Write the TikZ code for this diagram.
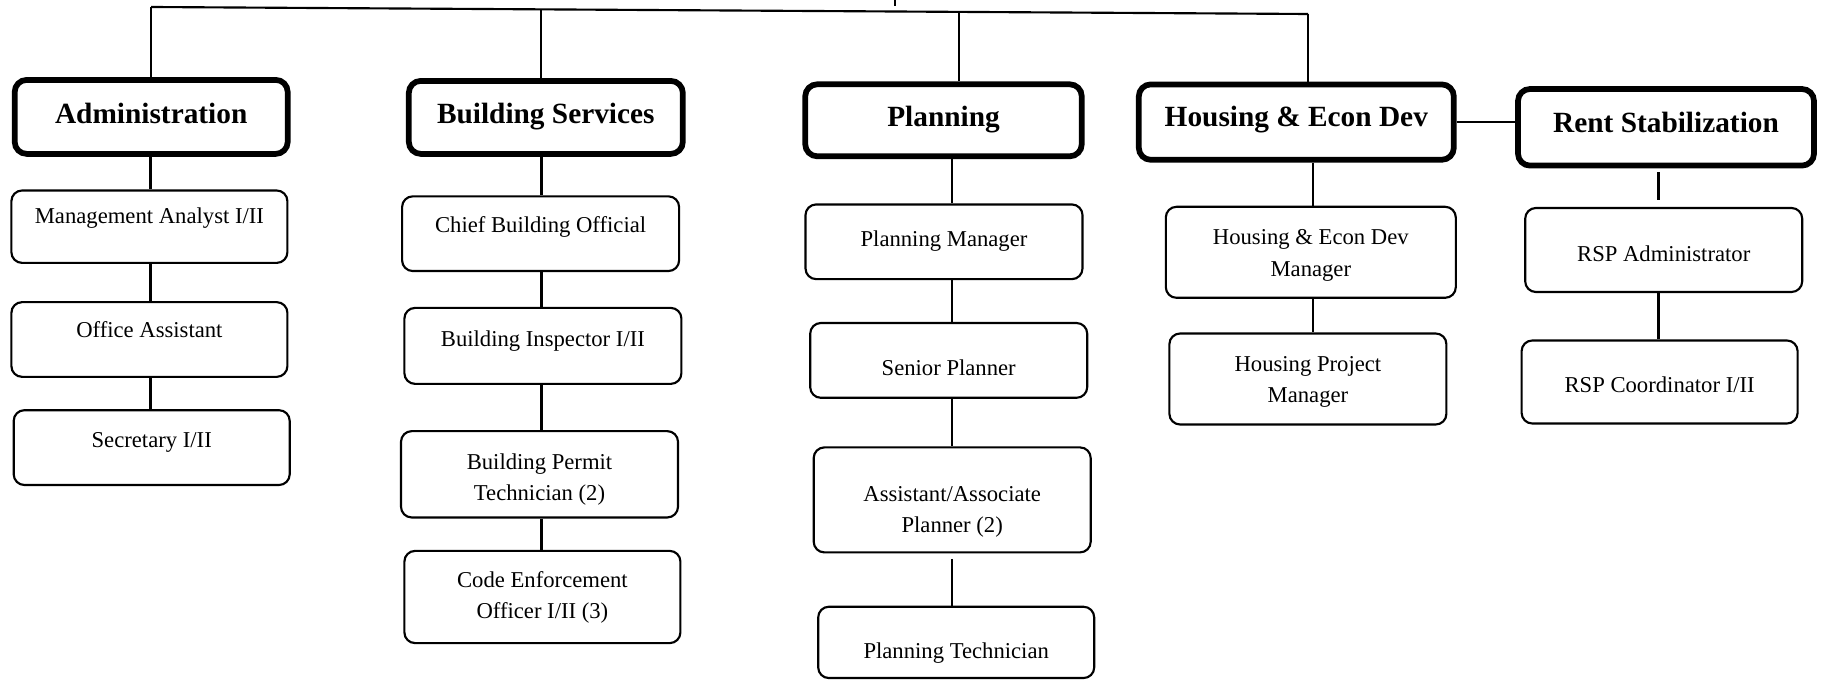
\documentclass[tikz,border=0pt]{standalone}
\usepackage{fontspec}
\setmainfont{Liberation Serif}
\def\u{0.75pt}
\tikzset{
  head/.style={draw, line width=4.3pt, rounded corners=9pt, inner sep=0pt},
  job/.style={draw, line width=1.6pt, rounded corners=8pt, inner sep=0pt},
  link/.style={line width=1.6pt},
  htxt/.style={font=\fontsize{22}{26}\selectfont\bfseries, inner sep=0pt, text height=15pt, text depth=4.8pt},
  jtxt/.style={font=\fontsize{17}{23.5}\selectfont, inner sep=0pt, text height=11.6pt, text depth=3.7pt},
  jtxtb/.style={font=\fontsize{17}{23.5}\selectfont, align=center, inner sep=0pt},
}
\begin{document}
\begin{tikzpicture}[x=0.75pt, y=-0.75pt]
\useasboundingbox (0,0) rectangle (1823,680);
% headers
\node[head, minimum width=273*\u, minimum height=74*\u] (adm) at (151.2,116.9) {};
\node[htxt] (admt) at (151.2,117.1) {Administration};
\node[head, minimum width=274*\u, minimum height=73*\u] (bs) at (545.8,117.4) {};
\node[htxt] (bst) at (545.8,117.1) {Building Services};
\node[head, minimum width=276.5*\u, minimum height=72*\u] (pl) at (943.5,120.3) {};
\node[htxt] (plt) at (943.5,119.5) {Planning};
\node[head, minimum width=315*\u, minimum height=75.4*\u] (hed) at (1296.3,122.1) {};
\node[htxt] (hedt) at (1296.3,119.5) {Housing \& Econ Dev};
\node[head, minimum width=296*\u, minimum height=76.6*\u] (rs) at (1666,127.3) {};
\node[htxt] (rst) at (1666,125.3) {Rent Stabilization};
% administration column
\node[job, minimum width=276*\u, minimum height=72.4*\u] (ma) at (149.4,226.7) {};
\node[jtxt] (mat) at (149.4,218.7) {Management Analyst I/II};
\node[job, minimum width=276*\u, minimum height=74.7*\u] (oa) at (149.4,339.5) {};
\node[jtxt] (oat) at (149.4,332.7) {Office Assistant};
\node[job, minimum width=276*\u, minimum height=74.8*\u] (sec) at (151.7,447.6) {};
\node[jtxt] (sect) at (151.7,442) {Secretary I/II};
% building services column
\node[job, minimum width=277*\u, minimum height=74.7*\u] (cbo) at (540.6,233.7) {};
\node[jtxt] (cbot) at (540.6,226.9) {Chief Building Official};
\node[job, minimum width=277*\u, minimum height=76*\u] (bi) at (542.9,345.9) {};
\node[jtxt] (bit) at (542.9,340.8) {Building Inspector I/II};
\node[job, minimum width=277*\u, minimum height=86.3*\u] (bpt) at (539.5,474.3) {};
\node[jtxtb] (bptt) at (539.5,479.6) {Building Permit\\Technician (2)};
\node[job, minimum width=276*\u, minimum height=92.2*\u] (ceo) at (542.4,597) {};
\node[jtxtb] (ceot) at (542.4,597.2) {Code Enforcement\\Officer I/II (3)};
% planning column
\node[job, minimum width=277*\u, minimum height=74.7*\u] (pm) at (944,241.8) {};
\node[jtxt] (pmt) at (944,240.8) {Planning Manager};
\node[job, minimum width=277*\u, minimum height=74.8*\u] (sp) at (948.7,360.4) {};
\node[jtxt] (spt) at (948.7,369.9) {Senior Planner};
\node[job, minimum width=277*\u, minimum height=105*\u] (ap) at (952.2,499.9) {};
\node[jtxtb] (apt) at (952.2,512.1) {Assistant/Associate\\Planner (2)};
\node[job, minimum width=276*\u, minimum height=71.3*\u] (pt) at (956.2,642.4) {};
\node[jtxt] (ptt) at (956.2,653.5) {Planning Technician};
% housing column
\node[job, minimum width=290*\u, minimum height=91*\u] (hedm) at (1310.8,252.3) {};
\node[jtxtb] (hedmt) at (1310.8,255.3) {Housing \& Econ Dev\\Manager};
\node[job, minimum width=277*\u, minimum height=91*\u] (hpm) at (1307.9,379) {};
\node[jtxtb] (hpmt) at (1307.9,382) {Housing Project\\Manager};
% rent stabilization column
\node[job, minimum width=277*\u, minimum height=84*\u] (rsa) at (1663.7,250) {};
\node[jtxt] (rsat) at (1663.7,255.9) {RSP Administrator};
\node[job, minimum width=276*\u, minimum height=83*\u] (rsc) at (1659.6,382) {};
\node[jtxt] (rsct) at (1659.6,387.3) {RSP Coordinator I/II};
% top bar
\coordinate (tl) at (151,7);
\coordinate (tr) at (1308,14);
\coordinate (d2) at (540.6,9.4);
\coordinate (d3) at (959,11.9);
\coordinate (tk1) at (895,0);
\coordinate (tk2) at (895,6);
\draw[link] (tl) -- (tr);
\draw[line width=1pt] (tk1) -- (tk2);
\draw[link] (tl) -- (tl |- adm.north);
\draw[link] (d2) -- (d2 |- bs.north);
\draw[link] (d3) -- (d3 |- pl.north);
\draw[link] (tr) -- (tr |- hed.north);
\draw[line width=1.9pt] (hed.east) -- (hed.east -| rs.west);
% column x positions
\coordinate (xa) at (150.5,0);
\coordinate (xb) at (541.5,0);
\coordinate (xp) at (952,0);
\coordinate (xh) at (1313,0);
\coordinate (xr) at (1658.5,0);
% column connectors
\draw[link] (xa |- adm.south) -- (xa |- ma.north);
\draw[link] (xa |- ma.south) -- (xa |- oa.north);
\draw[link] (xa |- oa.south) -- (xa |- sec.north);
\draw[link] (xb |- bs.south) -- (xb |- cbo.north);
\draw[link] (xb |- cbo.south) -- (xb |- bi.north);
\draw[link] (xb |- bi.south) -- (xb |- bpt.north);
\draw[link] (xb |- bpt.south) -- (xb |- ceo.north);
\draw[link] (xp |- pl.south) -- (xp |- pm.north);
\draw[link] (xp |- pm.south) -- (xp |- sp.north);
\draw[link] (xp |- sp.south) -- (xp |- ap.north);
\draw[link, shorten <=4pt] (xp |- ap.south) -- (xp |- pt.north);
\draw[link] (xh |- hed.south) -- (xh |- hedm.north);
\draw[link] (xh |- hedm.south) -- (xh |- hpm.north);
\draw[link, shorten <=3pt, shorten >=5pt] (xr |- rs.south) -- (xr |- rsa.north);
\draw[link] (xr |- rsa.south) -- (xr |- rsc.north);
\end{tikzpicture}
\end{document}
